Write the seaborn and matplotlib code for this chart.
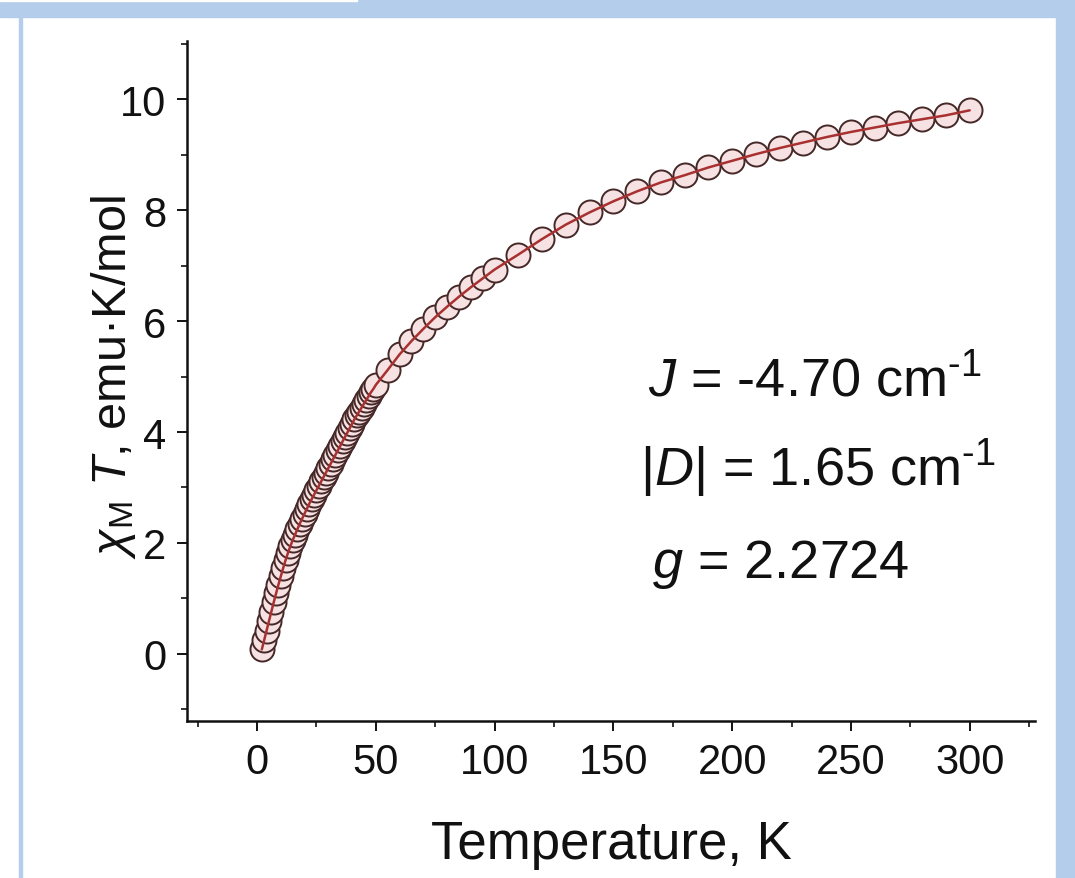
import numpy as np
import pandas as pd
import matplotlib
matplotlib.use("Agg")
import matplotlib.pyplot as plt
from matplotlib.patches import Rectangle
from matplotlib.ticker import MultipleLocator
import seaborn as sns

# --- data ---
temp_low = [2, 3, 4, 5, 6, 7, 8, 9, 10, 11, 12, 13, 14, 15, 16, 17, 18, 19, 20,
            21, 22, 23, 24, 25, 26, 27, 28, 29, 30, 31, 32, 33, 34, 35, 36, 37,
            38, 39, 40, 41, 42, 43, 44, 45, 46, 47, 48, 49, 50]
chiT_low = [0.08, 0.25, 0.42, 0.59, 0.76, 0.93, 1.09, 1.25, 1.40, 1.55, 1.69,
            1.82, 1.94, 2.05, 2.15, 2.25, 2.35, 2.44, 2.53, 2.62, 2.71, 2.79,
            2.87, 2.95, 3.03, 3.11, 3.19, 3.27, 3.35, 3.43, 3.51, 3.59, 3.67,
            3.75, 3.83, 3.91, 3.99, 4.07, 4.15, 4.23, 4.30, 4.37, 4.44, 4.51,
            4.58, 4.65, 4.72, 4.78, 4.85]
temp_mid = [55, 60, 65, 70, 75, 80, 85, 90, 95, 100]
chiT_mid = [5.12, 5.40, 5.64, 5.86, 6.07, 6.26, 6.44, 6.61, 6.77, 6.93]
temp_high = [110, 120, 130, 140, 150, 160, 170, 180, 190, 200, 210, 220, 230,
             240, 250, 260, 270, 280, 290, 300]
chiT_high = [7.20, 7.48, 7.74, 7.96, 8.16, 8.34, 8.50, 8.63, 8.77, 8.89, 9.01,
             9.12, 9.22, 9.32, 9.41, 9.49, 9.57, 9.64, 9.71, 9.80]

fit_labels = [r"$J$ = -4.70 cm$^{\text{-}1}$", r"|$D$| = 1.65 cm$^{\text{-}1}$",
              r"$g$ = 2.2724"]

df = pd.DataFrame({"T": temp_low + temp_mid + temp_high,
                   "chiT": chiT_low + chiT_mid + chiT_high})

# --- style ---
sns.set_theme(style="ticks")
plt.rcParams["font.family"] = ["Liberation Sans", "DejaVu Sans"]
plt.rcParams["mathtext.fontset"] = "custom"
plt.rcParams["mathtext.rm"] = "Liberation Sans"
plt.rcParams["mathtext.it"] = "Liberation Sans:italic"
plt.rcParams["mathtext.bf"] = "Liberation Sans:bold"

W, H = 1075, 879
fig = plt.figure(figsize=(W / 100, H / 100), dpi=100, facecolor="white")
ax = fig.add_axes([187 / W, 1 - 722 / H, 848 / W, 680 / H])

blue = "#b3cdeb"
fig.patches.append(Rectangle((0, 1 - 18 / H), 1, 18 / H, transform=fig.transFigure,
                             color=blue, zorder=0))
fig.patches.append(Rectangle((0, 1 - 2 / H), 357 / W, 2 / H, transform=fig.transFigure,
                             color="white", zorder=1))
fig.patches.append(Rectangle((1056 / W, 0), 19 / W, 1, transform=fig.transFigure,
                             color=blue, zorder=0))
fig.patches.append(Rectangle((19 / W, 0), 3 / W, 1 - 18 / H, transform=fig.transFigure,
                             color=blue, zorder=0))

# data points (open-ish circles) and fit line
sns.scatterplot(data=df, x="T", y="chiT", ax=ax, s=300, marker="o",
                facecolor="#f6e2e2", edgecolor="#472828", linewidth=1.4,
                zorder=2, legend=False)
sns.lineplot(data=df, x="T", y="chiT", ax=ax, color="#a83030", linewidth=1.8,
             zorder=3, legend=False)

ax.set_xlim(-29.5, 327.5)
ax.set_ylim(-1.21, 11.05)
ax.xaxis.set_major_locator(MultipleLocator(50))
ax.xaxis.set_minor_locator(MultipleLocator(25))
ax.yaxis.set_major_locator(MultipleLocator(2))
ax.yaxis.set_minor_locator(MultipleLocator(1))

sns.despine(ax=ax)
for side in ["left", "bottom"]:
    ax.spines[side].set_linewidth(1.8)
    ax.spines[side].set_color("#111111")

ax.tick_params(which="major", direction="out", length=7, width=1.4,
               labelsize=30, colors="#111111", pad=8)
ax.tick_params(which="minor", direction="out", length=4, width=1.2,
               colors="#111111")

ax.set_xlabel("Temperature, K", fontsize=38, color="#111111")
ax.set_ylabel(r"$\chi_{\mathrm{M}}\ T$, emu·K/mol", fontsize=35, color="#111111")
ax.xaxis.set_label_coords(0.501, -0.144)
ax.yaxis.set_label_coords(-0.058, 0.507)

for label, (xa, ya) in zip(fit_labels, [(0.544, 0.5), (0.534, 0.372), (0.548, 0.231)]):
    ax.text(xa, ya, label, transform=ax.transAxes, fontsize=39,
            ha="left", va="center", color="#111111")

fig.savefig("out.png", dpi=100, facecolor="white")
